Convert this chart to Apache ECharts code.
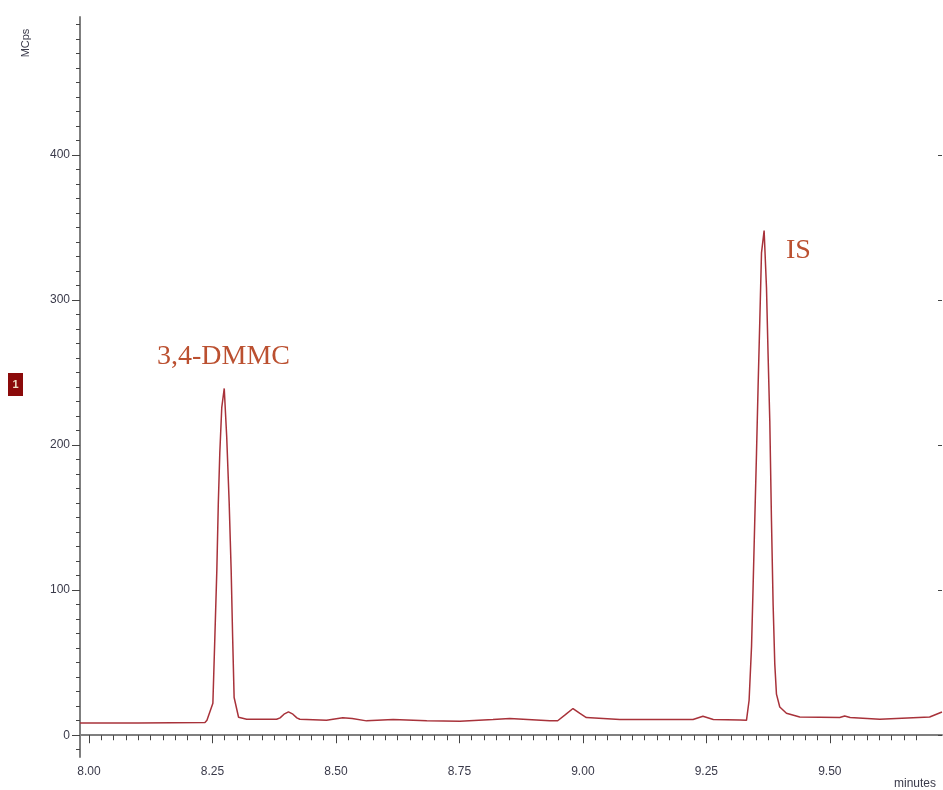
<!DOCTYPE html>
<html>
<head>
<meta charset="utf-8">
<script src="https://cdn.jsdelivr.net/npm/echarts@6/dist/echarts.min.js"></script>
<style>html,body{margin:0;padding:0;background:#fff}#c{width:943px;height:790px}</style>
</head>
<body>
<div id="c"></div>
<script>
// retention time (minutes)
var times = [7.982, 8.100, 8.235, 8.239, 8.251, 8.255, 8.259, 8.262, 8.265, 8.269, 8.274, 8.279, 8.284, 8.288, 8.291, 8.294, 8.303, 8.3195,
  8.380, 8.387, 8.395, 8.404, 8.413, 8.421, 8.427, 8.481, 8.514, 8.533, 8.562, 8.616, 8.684, 8.751, 8.818, 8.852, 8.933, 8.949, 8.964, 8.980, 8.994, 9.007,
  9.075, 9.223, 9.243, 9.264, 9.318, 9.3312, 9.3365, 9.3414, 9.3446, 9.3480, 9.3515, 9.3547, 9.3582, 9.3616, 9.3669, 9.3717, 9.3749, 9.3784, 9.3818,
  9.3851, 9.3885, 9.3919, 9.3986, 9.4121, 9.439, 9.520, 9.530, 9.541, 9.601, 9.702, 9.727];
// intensity (MCps)
var intensity = [8.5, 8.5, 8.8, 10.3, 22, 67.6, 113.8, 160, 194.5, 226, 239, 205.5, 160, 113.8, 67.6, 26, 12.4, 11,
  11, 12, 14.5, 16.1, 14.5, 12, 11, 10.3, 12, 11.5, 9.9, 10.8, 9.9, 9.7, 10.8, 11.5, 9.9, 10, 14, 18.4, 15, 12.2,
  10.8, 10.8, 13.1, 10.8, 10.5, 10.3, 24.1, 60.9, 102.3, 148.3, 194.5, 240.2, 286.2, 332.4, 347.8, 308.5, 262.8, 216.6, 147.6,
  90.3, 49, 28.3, 19.5, 15.2, 12.6, 12.2, 13.3, 12.2, 11, 12.6, 16];
var xLabels = [8.00, 8.25, 8.50, 8.75, 9.00, 9.25, 9.50];
var yLabels = [0, 100, 200, 300, 400];
var peakNames = ['3,4-DMMC', 'IS'];

var xMinor = [];
for (var i = 0; i <= 69; i++) xMinor.push(+(7.95 + 0.025 * i).toFixed(3));
xMinor = xMinor.filter(function (v) { return v >= 7.99 && v <= 9.72; });
var yMinor = [];
for (var j = -10; j <= 490; j += 10) yMinor.push(j);

var data = times.map(function (t, k) { return [t, intensity[k]]; });
var XMIN = 7.982, XMAX = 9.727, YMIN = -15, YMAX = 495;
var gray = '#7f7f7f';
var lblStyle = { color: '#3a3a4a', fontSize: 12, fontFamily: 'Arial, "Liberation Sans", sans-serif' };

var chart = echarts.init(document.getElementById('c'));
chart.setOption({
  animation: false,
  grid: { left: 80, right: 1, top: 17, bottom: 33, containLabel: false },
  xAxis: [{
    type: 'value', min: XMIN, max: XMAX,
    axisLine: { show: true, lineStyle: { color: gray, width: 2 } },
    axisTick: { show: true, customValues: xLabels, length: 8, lineStyle: { color: '#444', width: 1 } },
    axisLabel: Object.assign({ customValues: xLabels, margin: 9, formatter: function (v) { return v.toFixed(2); } }, lblStyle),
    splitLine: { show: false }
  }, {
    type: 'value', min: XMIN, max: XMAX, position: 'bottom',
    axisLine: { show: false },
    axisTick: { show: true, customValues: xMinor, length: 5, lineStyle: { color: '#444', width: 1 } },
    axisLabel: { show: false },
    splitLine: { show: false }
  }],
  yAxis: [{
    type: 'value', min: YMIN, max: YMAX,
    axisLine: { show: true, lineStyle: { color: gray, width: 2 } },
    axisTick: { show: true, customValues: yLabels, length: 8, lineStyle: { color: '#444', width: 1 } },
    axisLabel: Object.assign({ customValues: yLabels, margin: 10 }, lblStyle),
    splitLine: { show: false }
  }, {
    type: 'value', min: YMIN, max: YMAX, position: 'left',
    axisLine: { show: false },
    axisTick: { show: true, customValues: yMinor, length: 4, lineStyle: { color: '#444', width: 1 } },
    axisLabel: { show: false },
    splitLine: { show: false }
  }, {
    type: 'value', min: YMIN, max: YMAX, position: 'right',
    axisLine: { show: false },
    axisTick: { show: true, inside: true, customValues: yLabels, length: 4, lineStyle: { color: '#444', width: 1 } },
    axisLabel: { show: false },
    splitLine: { show: false }
  }],
  series: [{
    type: 'line', xAxisIndex: 0, yAxisIndex: 0, data: data,
    showSymbol: false, symbol: 'none',
    lineStyle: { color: '#a8323a', width: 1.5 },
    silent: true
  }],
  graphic: [
    { type: 'text', left: 157, top: 343, style: { text: peakNames[0], fill: '#bb5030', font: '28px "Liberation Serif", "Times New Roman", serif' } },
    { type: 'text', left: 786, top: 237, style: { text: peakNames[1], fill: '#bb5030', font: '28px "Liberation Serif", "Times New Roman", serif' } },
    { type: 'text', x: 26, y: 43, rotation: Math.PI / 2, style: { text: 'MCps', fill: '#3a3a4a', font: '11px Arial, "Liberation Sans", sans-serif', align: 'center', verticalAlign: 'middle' } },
    { type: 'rect', shape: { x: 8, y: 373, width: 15, height: 23 }, style: { fill: '#8b0a0a' } },
    { type: 'text', x: 15.5, y: 384.5, style: { text: '1', fill: '#f0e0c8', font: 'bold 11px Arial, "Liberation Sans", sans-serif', align: 'center', verticalAlign: 'middle' } },
    { type: 'text', left: 894, top: 778, style: { text: 'minutes', fill: '#3a3a4a', font: '12px Arial, "Liberation Sans", sans-serif' } }
  ]
});
</script>
</body>
</html>
